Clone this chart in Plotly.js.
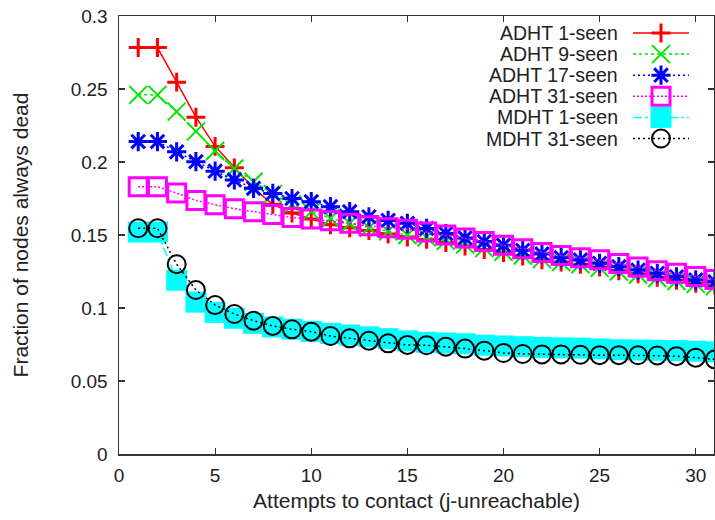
<!DOCTYPE html>
<html>
<head>
<meta charset="utf-8">
<script src="https://cdn.plot.ly/plotly-3.0.1.min.js"></script>
<style>html,body{margin:0;padding:0;background:#fff;}#chart{width:715px;height:520px;}</style>
</head>
<body>
<div id="chart"></div>
<script>
// ---- data ----
const attempts = [1,2,3,4,5,6,7,8,9,10,11,12,13,14,15,16,17,18,19,20,21,22,23,24,25,26,27,28,29,30,31];

const seriesNames = ["ADHT 1-seen","ADHT 9-seen","ADHT 17-seen","ADHT 31-seen","MDHT 1-seen","MDHT 31-seen"];

const adht1 = [0.2784,0.2784,0.2547,0.2307,0.2107,0.196,0.182,0.171,0.165,0.161,0.157,0.155,0.153,0.1507,0.1486,0.147,0.1448,0.1425,0.140,0.138,0.1355,0.133,0.1315,0.130,0.128,0.1255,0.1235,0.121,0.119,0.117,0.1155];
const adht9 = [0.246,0.246,0.2345,0.221,0.2075,0.1955,0.1865,0.178,0.171,0.166,0.1615,0.158,0.155,0.1525,0.150,0.1485,0.146,0.1435,0.141,0.1385,0.136,0.1335,0.1315,0.130,0.1275,0.125,0.123,0.1205,0.1185,0.1165,0.115];
const adht17 = [0.214,0.214,0.207,0.2002,0.1937,0.1877,0.182,0.1785,0.175,0.1728,0.1694,0.166,0.1625,0.160,0.158,0.1545,0.151,0.148,0.1455,0.143,0.1395,0.137,0.1345,0.1329,0.1306,0.1283,0.126,0.1238,0.1214,0.1192,0.118];
const adht31 = [0.1831,0.1831,0.1787,0.1737,0.1707,0.168,0.166,0.164,0.162,0.161,0.1597,0.158,0.1563,0.155,0.154,0.152,0.150,0.148,0.1455,0.143,0.1405,0.138,0.136,0.1345,0.133,0.1305,0.128,0.1255,0.1238,0.1215,0.1195];
const mdht1 = [0.152,0.152,0.119,0.104,0.097,0.093,0.0895,0.087,0.0855,0.084,0.0826,0.0815,0.0803,0.079,0.0775,0.0765,0.076,0.0755,0.0745,0.074,0.0735,0.073,0.0727,0.0725,0.072,0.0714,0.0712,0.071,0.0708,0.0704,0.070];
const mdht31 = [0.1546,0.1546,0.130,0.1123,0.102,0.0959,0.0913,0.0877,0.0854,0.0838,0.0808,0.0792,0.0776,0.0758,0.0747,0.0745,0.0735,0.0722,0.0708,0.0692,0.0685,0.0682,0.0682,0.068,0.0677,0.0677,0.0676,0.0675,0.067,0.066,0.0648];

const xTicks = [0,5,10,15,20,25,30];
const yTicks = [0,0.05,0.1,0.15,0.2,0.25,0.3];
const yTickText = ["0","0.05","0.1","0.15","0.2","0.25","0.3"];

// ---- styles ----
const seriesValues = [adht1, adht9, adht17, adht31, mdht1, mdht31];
const styles = [
  {color:"#ff0000", dash:"solid", symbol:"cross-thin", size:13.5, mlw:3},
  {color:"#00e600", dash:"3px,3px", symbol:"x-thin", size:18, mlw:2},
  {color:"#0000ff", dash:"2px,3px", symbol:"asterisk", size:16, mlw:3},
  {color:"#ff00ff", dash:"2px,2px", symbol:"square-open", size:18, mlw:3},
  {color:"#00ffff", dash:"dashdot", symbol:"square", size:21, mlw:0},
  {color:"#000000", dash:"2px,3px", symbol:"circle-open", size:18, mlw:2}
];
const FONT = "Liberation Sans, Arial, sans-serif";

const traces = [];
seriesValues.forEach((vals, i) => {
  const s = styles[i];
  traces.push({
    type:"scatter", mode:"lines+markers", name:seriesNames[i],
    x:attempts, y:vals, showlegend:false, cliponaxis:true,
    line:{color:s.color, width:1.5, dash:s.dash},
    marker:{symbol:s.symbol, size:s.size, color:s.color,
            line:{color:s.color, width:s.mlw}}
  });
});

// ---- custom legend (symbol on the right, text right-aligned) ----
const legTextRight = 619, legLineL = 633, legLineR = 689, legRow0 = 33, legStep = 21.1;
const annotations = [];
seriesNames.forEach((nm, i) => {
  const s = styles[i];
  const yy = legRow0 + i*legStep;
  traces.push({
    type:"scatter", mode:"lines", xaxis:"x2", yaxis:"y2", showlegend:false, hoverinfo:"skip",
    x:[legLineL, legLineR], y:[yy, yy],
    line:{color:s.color, width:1.5, dash:s.dash}
  });
  traces.push({
    type:"scatter", mode:"markers", xaxis:"x2", yaxis:"y2", showlegend:false, hoverinfo:"skip",
    x:[(legLineL+legLineR)/2], y:[yy],
    marker:{symbol:s.symbol, size:s.size, color:s.color, line:{color:s.color, width:s.mlw}}
  });
  annotations.push({
    xref:"x2", yref:"y2", x:legTextRight, y:yy, text:nm, showarrow:false,
    xanchor:"right", yanchor:"middle", borderpad:0,
    font:{family:FONT, size:19.5, color:"#222"}
  });
});

const axisCommon = {
  showgrid:false, zeroline:false, showline:true, linecolor:"#333", linewidth:1.5,
  mirror:"ticks", ticks:"inside", ticklen:6, tickwidth:1.2, tickcolor:"#333",
  tickfont:{family:FONT, size:19, color:"#222"}
};

const layout = {
  width:715, height:520,
  margin:{l:119, r:1, t:16, b:66},
  paper_bgcolor:"#fff", plot_bgcolor:"#fff",
  showlegend:false,
  xaxis:Object.assign({}, axisCommon, {
    range:[0,30.95], tickvals:xTicks, ticktext:xTicks.map(String),
    ticklabelstandoff:4,
    title:{text:"Attempts to contact (j-unreachable)", standoff:8,
           font:{family:FONT, size:21, color:"#222"}}
  }),
  yaxis:Object.assign({}, axisCommon, {
    range:[0,0.3], tickvals:yTicks, ticktext:yTickText,
    ticklabelstandoff:6,
    title:{text:"Fraction of nodes always dead", standoff:36,
           font:{family:FONT, size:21, color:"#222"}}
  }),
  xaxis2:{overlaying:"x", range:[119,714], visible:false, fixedrange:true},
  yaxis2:{overlaying:"y", range:[454,16], visible:false, fixedrange:true},
  annotations:annotations
};

Plotly.newPlot("chart", traces, layout, {displayModeBar:false, staticPlot:true});
</script>
</body>
</html>
